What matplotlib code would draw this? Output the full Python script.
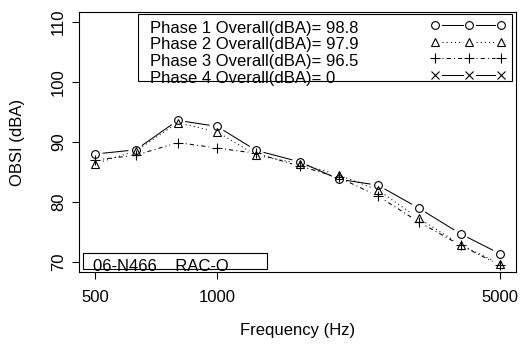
import numpy as np
import matplotlib
matplotlib.use("Agg")
import matplotlib.pyplot as plt
from matplotlib.lines import Line2D
from matplotlib.patches import Rectangle

plt.rcParams['font.family'] = ['Liberation Sans', 'DejaVu Sans']

freqs = [500, 630, 800, 1000, 1250, 1600, 2000, 2500, 3150, 4000, 5000]
phase1 = [88.0, 88.7, 93.6, 92.6, 88.6, 86.7, 83.8, 82.8, 79.0, 74.7, 71.4]
phase2 = [86.4, 88.5, 93.2, 91.7, 87.8, 86.4, 84.5, 82.0, 77.3, 72.9, 69.7]
phase3 = [87.0, 87.8, 89.9, 89.0, 88.1, 86.0, 84.1, 81.0, 76.7, 72.8, 69.5]
phase4 = []
legend_labels = ["Phase 1 Overall(dBA)= 98.8", "Phase 2 Overall(dBA)= 97.9",
                 "Phase 3 Overall(dBA)= 96.5", "Phase 4 Overall(dBA)= 0"]
xticks = [500, 1000, 5000]
yticks = [70, 80, 90, 100, 110]
box_label = "06-N466    RAC-O"

W, H = 525, 345
fig = plt.figure(figsize=(W / 100, H / 100), dpi=100)
L, R, T, B = 79, 516, 12.3, 271.7
ax = fig.add_axes([L / W, 1 - B / H, (R - L) / W, (B - T) / H])
ax.set_xscale('log')
ax.set_xlim(500 / 10 ** 0.04, 5000 * 10 ** 0.04)
ax.set_ylim(68.4, 111.6)
for s in ax.spines.values():
    s.set_linewidth(0.8)

ax.set_xticks(xticks)
ax.set_xticklabels([str(t) for t in xticks])
ax.xaxis.set_minor_locator(matplotlib.ticker.NullLocator())
ax.set_yticks(yticks)
ax.set_yticklabels([str(t) for t in yticks], rotation=90, va='center')
ax.tick_params(axis='x', length=5, width=0.8, pad=8.5, labelsize=12)
ax.tick_params(axis='y', length=5, width=0.8, pad=4.5, labelsize=12)

fig.text(18 / W, 1 - 142 / H, "OBSI (dBA)", rotation=90, ha='center', va='center', fontsize=12)
fig.text(297.5 / W, 1 - 330 / H, "Frequency (Hz)", ha='center', va='center', fontsize=12)

styles = [
    dict(marker='o', ls='-'),
    dict(marker='^', ls=(0, (1, 3))),
    dict(marker='+', ls=(0, (1, 3, 4, 3))),
    dict(marker='x', ls='-'),
]
msize = {'o': 5.6, '^': 5.8, '+': 6.8, 'x': 5.6}
lw = 0.75
GAP = 8.0
LGAP = 6.5


def gapped_display(p0, p1, gap):
    d = np.asarray(p1) - np.asarray(p0)
    Ld = np.hypot(*d)
    if Ld <= 2 * gap:
        return None
    u = d / Ld
    return np.asarray(p0) + u * gap, np.asarray(p1) - u * gap


for ys, st in zip([phase1, phase2, phase3, phase4], styles):
    if len(ys) == 0:
        continue
    xs = freqs[:len(ys)]
    pts = ax.transData.transform(np.column_stack([xs, ys]))
    inv = ax.transData.inverted()
    for i in range(len(pts) - 1):
        seg = gapped_display(pts[i], pts[i + 1], GAP)
        if seg is None:
            continue
        d = inv.transform(np.vstack(seg))
        ax.plot(d[:, 0], d[:, 1], color='black', lw=lw, ls=st['ls'])
    ax.plot(xs, ys, ls='none', marker=st['marker'], ms=msize[st['marker']],
            mfc='none', mec='black', mew=0.8)


def fx(x):
    return x / W


def fy(y):
    return 1 - y / H


# legend box
fig.add_artist(Rectangle((fx(138), fy(81)), (512 - 138) / W, (81 - 14.3) / H,
                         transform=fig.transFigure, fill=False, ec='black', lw=0.8))
mx = [435, 469, 501]
for i, (lab, st) in enumerate(zip(legend_labels, styles)):
    base = 32.7 + 16.6 * i
    fig.text(fx(150), fy(base), lab, ha='left', va='baseline', fontsize=12)
    yc = base - 7.5
    for j in range(len(mx) - 1):
        a = mx[j] + LGAP
        b = mx[j + 1] - LGAP
        fig.add_artist(Line2D([fx(a), fx(b)], [fy(yc), fy(yc)], transform=fig.transFigure,
                              color='black', lw=lw, ls=st['ls']))
    fig.add_artist(Line2D([fx(x) for x in mx], [fy(yc)] * 3, transform=fig.transFigure,
                          ls='none', marker=st['marker'], ms=msize[st['marker']],
                          mfc='none', mec='black', mew=0.8))

# identification box
fig.add_artist(Rectangle((fx(83), fy(269.3)), (267 - 83) / W, (269.3 - 253) / H,
                         transform=fig.transFigure, fill=False, ec='black', lw=0.8))
fig.text(fx(93), fy(271), box_label, ha='left', va='baseline', fontsize=12)

fig.savefig("out.png", dpi=100)
